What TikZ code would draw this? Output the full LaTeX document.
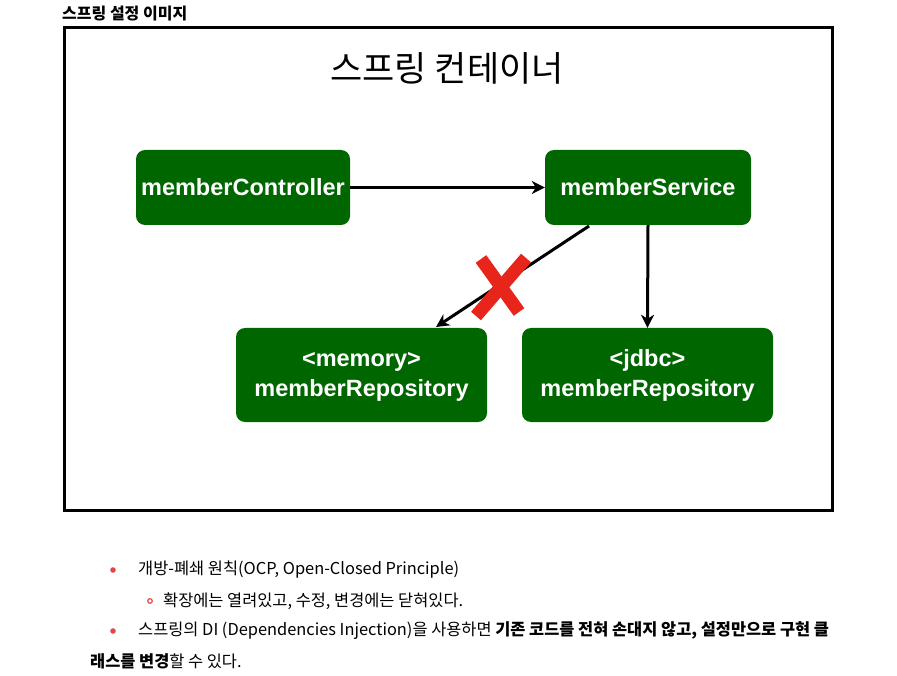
\documentclass[tikz,border=0pt]{standalone}
\usepackage{fontspec}
\setmainfont{Noto Sans CJK KR}
\newfontfamily\boxfont{Liberation Sans}
\newfontfamily\krfont{Noto Sans CJK KR}
\usetikzlibrary{arrows.meta}
\definecolor{boxgreen}{RGB}{0,102,0}
\definecolor{xred}{RGB}{232,37,26}
\definecolor{bulletred}{RGB}{222,72,72}
\tikzset{
  bean/.style={draw=none, fill=boxgreen, rounded corners=9pt, text=white,
    font=\boxfont\bfseries\fontsize{23.5}{30}\selectfont, align=center, inner sep=0pt},
  dep/.style={draw=black, line width=3pt, -{Stealth[length=13pt,width=13pt,inset=4pt]}},
  cross/.style={draw=xred, line width=13pt},
  bodytext/.style={anchor=west, inner sep=0pt, font=\krfont\fontsize{16.4}{20}\selectfont},
}
\begin{document}
\begin{tikzpicture}[x=1pt,y=-1pt]
\useasboundingbox (0,0) rectangle (897,676);
\node[anchor=west, inner sep=0pt, font=\krfont\bfseries\fontsize{16}{18}\selectfont] (title) at (62,14) {스프링 설정 이미지};
\draw[line width=3pt] (64,28) rectangle (832,510);
\node[inner sep=0pt, font=\krfont\fontsize{35}{40}\selectfont] (cont) at (447,68) {스프링 컨테이너};
\node[bean, minimum width=214pt, minimum height=75pt] (ctrl) at (243,187.5) {memberController};
\node[bean, minimum width=206pt, minimum height=75pt] (svc) at (648,187.5) {memberService};
\node[bean, minimum width=251pt, minimum height=94pt] (mem) at (361.5,375) {\strut<memory>\\\strut memberRepository};
\node[bean, minimum width=251pt, minimum height=94pt] (jdbc) at (647.5,375) {\strut<jdbc>\\\strut memberRepository};
\draw[dep] (ctrl.east) -- (svc.west);
\coordinate (s1) at (589,226);
\coordinate (m1) at (436,327);
\draw[dep] (s1) -- (m1);
\draw[dep] (svc.south) -- (jdbc.north);
\coordinate (xa) at (481,259);
\coordinate (xb) at (519,312);
\coordinate (xc) at (526,258);
\coordinate (xd) at (476,316);
\draw[cross] (xa) -- (xb);
\draw[cross] (xc) -- (xd);
% bullets
\fill[bulletred] (113,570) circle (2.8pt);
\node[bodytext] (b1) at (138,570) {개방-폐쇄 원칙(OCP, Open-Closed Principle)};
\draw[bulletred, line width=1.2pt] (150,601) circle (2.3pt);
\node[bodytext] (b2) at (163,601) {확장에는 열려있고, 수정, 변경에는 닫혀있다.};
\fill[bulletred] (113,631) circle (2.8pt);
\node[bodytext] (b3) at (138,631) {스프링의 DI (Dependencies Injection)을 사용하면 \textbf{기존 코드를 전혀 손대지 않고, 설정만으로 구현 클}};
\node[bodytext] (b4) at (90,661) {\textbf{래스를 변경}할 수 있다.};
\end{tikzpicture}
\end{document}
